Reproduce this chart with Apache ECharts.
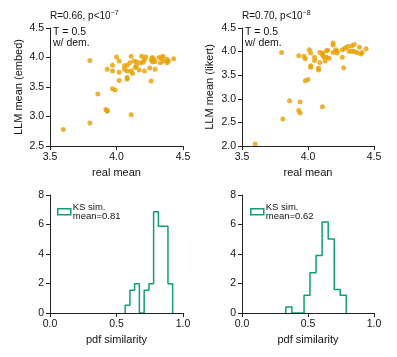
<!DOCTYPE html>
<html>
<head>
<meta charset="utf-8">
<script src="https://cdn.jsdelivr.net/npm/echarts@6/dist/echarts.min.js"></script>
<style>
  html, body { margin: 0; padding: 0; background: #fff; }
  #chart { width: 397px; height: 357px; }
</style>
</head>
<body>
<div id="chart"></div>
<script>
// top-left: real mean vs LLM mean (embed)
const realEmbed = [3.60,3.80,3.80,3.86,3.92,3.93,3.93,3.93,3.97,3.97,3.97,3.99,4.00,4.02,4.02,4.02,4.06,4.06,4.08,4.08,4.08,4.08,4.10,4.11,4.11,4.11,4.12,4.13,4.14,4.15,4.15,4.17,4.18,4.19,4.20,4.21,4.21,4.22,4.25,4.26,4.26,4.27,4.27,4.28,4.29,4.29,4.32,4.33,4.34,4.35,4.35,4.38,4.38,4.39,4.43]
const llmEmbed = [2.78,3.95,2.89,3.38,3.12,3.09,3.10,3.80,3.87,3.77,3.47,3.45,4.01,3.94,3.75,3.61,3.86,3.80,3.63,3.66,3.77,3.87,3.91,3.03,4.02,3.77,3.73,3.94,3.83,3.86,3.93,3.79,3.91,4.02,3.92,3.96,3.77,4.01,3.82,3.96,3.60,4.00,3.93,3.97,3.80,3.93,4.00,3.91,4.00,4.02,3.94,3.97,3.91,3.94,3.98]

// top-right: real mean vs LLM mean (likert)
const realLikert = [3.60,3.80,3.81,3.86,3.93,3.93,3.94,3.94,3.97,3.98,3.98,4.00,4.01,4.02,4.02,4.02,4.05,4.05,4.08,4.08,4.09,4.09,4.11,4.11,4.11,4.12,4.13,4.14,4.14,4.15,4.16,4.19,4.19,4.19,4.21,4.22,4.22,4.26,4.26,4.27,4.28,4.30,4.31,4.33,4.33,4.35,4.35,4.37,4.39,4.40,4.41,4.44]
const llmLikert = [2.04,3.98,2.57,2.96,3.91,2.75,2.70,2.93,3.90,3.85,3.38,3.41,4.04,3.70,3.67,3.97,3.88,3.81,3.65,3.61,3.77,3.98,3.93,2.83,3.97,3.88,3.80,4.02,3.88,4.03,3.86,4.18,4.14,3.98,4.04,3.97,4.01,3.88,4.04,3.66,4.07,4.11,4.01,4.12,4.01,4.15,4.00,3.98,4.09,3.95,3.98,4.06]

// bottom: KS similarity histograms (density)
const ksEdgesEmbed = [0.565,0.601,0.636,0.672,0.708,0.744,0.779,0.815,0.851,0.887,0.922]
const ksDensityEmbed = [0.52,1.54,1.99,0,1.54,1.99,6.87,5.88,5.88,1.99]
const ksEdgesLikert = [0.332,0.378,0.424,0.470,0.515,0.561,0.607,0.653,0.699,0.744,0.790]
const ksDensityLikert = [0.41,0,0,1.20,2.73,3.89,6.17,5.02,1.60,1.20]

const scatterTitles = ['R=0.66, p<10', 'R=0.70, p<10']
const scatterExps = ['\u22127', '\u22128']
const legendNames = ['KS sim.\nmean=0.81', 'KS sim.\nmean=0.62']

const ORANGE = '#E69F00'
const TEAL = '#0f9e78'
const AXIS = '#222'
const FONT = 'Liberation Sans, Arial, sans-serif'

const pairs = (xs, ys) => xs.map((x, i) => [x, ys[i]])

// step outline of a histogram, like histtype='step'
const stepLine = (edges, heights) => {
  const pts = [[edges[0], 0]]
  heights.forEach((h, i) => {
    pts.push([edges[i], h])
    pts.push([edges[i + 1], h])
  })
  pts.push([edges[edges.length - 1], 0])
  return pts
}

const grids = [
  { left: 50, top: 28, width: 133, height: 118 },
  { left: 242, top: 28, width: 132, height: 118 },
  { left: 50, top: 195, width: 133, height: 118 },
  { left: 242, top: 195, width: 132, height: 118 }
]

const tickLabel = (formatter) => ({ color: '#111', fontSize: 10.5, fontFamily: FONT, margin: 6, formatter: formatter })

const baseAxis = (extra) => Object.assign({
  type: 'value',
  z: 5,
  splitLine: { show: false },
  axisLine: { show: true, onZero: false, lineStyle: { color: AXIS, width: 1 } },
  axisTick: { show: true, inside: false, length: 4, lineStyle: { color: AXIS } },
  nameLocation: 'middle',
  nameTextStyle: { color: '#111', fontSize: 11, fontFamily: FONT }
}, extra)

const fmt1 = (v) => v.toFixed(1)
const fmt0 = (v) => String(v)

const xAxis = [
  baseAxis({ gridIndex: 0, min: 3.5, max: 4.5, interval: 0.5, name: 'real mean', nameGap: 21, axisLabel: tickLabel(fmt1) }),
  baseAxis({ gridIndex: 1, min: 3.5, max: 4.5, interval: 0.5, name: 'real mean', nameGap: 21, axisLabel: tickLabel(fmt1) }),
  baseAxis({ gridIndex: 2, min: 0, max: 1, interval: 0.5, name: 'pdf similarity', nameGap: 21, axisLabel: tickLabel(fmt1) }),
  baseAxis({ gridIndex: 3, min: 0, max: 1, interval: 0.5, name: 'pdf similarity', nameGap: 21, axisLabel: tickLabel(fmt1) })
]

const yAxis = [
  baseAxis({ gridIndex: 0, min: 2.5, max: 4.5, interval: 0.5, name: 'LLM mean (embed)', nameGap: 26, axisLabel: tickLabel(fmt1) }),
  baseAxis({ gridIndex: 1, min: 2.0, max: 4.5, interval: 0.5, name: 'LLM mean (likert)', nameGap: 27, axisLabel: tickLabel(fmt1) }),
  baseAxis({ gridIndex: 2, min: 0, max: 8, interval: 2, axisLabel: tickLabel(fmt0) }),
  baseAxis({ gridIndex: 3, min: 0, max: 8, interval: 2, axisLabel: tickLabel(fmt0) })
]

const scatterSeries = (idx, xs, ys) => ({
  type: 'scatter',
  xAxisIndex: idx,
  yAxisIndex: idx,
  symbolSize: 5,
  itemStyle: { color: ORANGE },
  data: pairs(xs, ys),
  silent: true
})

const histSeries = (idx, name, edges, heights) => ({
  type: 'line',
  name: name,
  xAxisIndex: idx,
  yAxisIndex: idx,
  z: 1,
  showSymbol: false,
  symbol: 'none',
  lineStyle: { color: TEAL, width: 1.5 },
  itemStyle: { color: TEAL },
  data: stepLine(edges, heights),
  silent: true,
  animation: false
})

const legendFor = (name, left) => ({
  left: left,
  top: 197,
  orient: 'vertical',
  itemWidth: 13,
  itemHeight: 6,
  itemGap: 4,
  selectedMode: false,
  data: [{ name: name, icon: 'rect', itemStyle: { color: '#fff', borderColor: TEAL, borderWidth: 1.5 } }],
  textStyle: { color: '#111', fontSize: 9.5, fontFamily: FONT, lineHeight: 9.5, padding: [0, 0, 0, -3] }
})

const titleText = (x, main, exp) => ({
  type: 'text',
  left: x,
  top: 10,
  style: {
    text: '{a|' + main + '}{s|' + exp + '}',
    rich: {
      a: { fontSize: 10, fontFamily: FONT, fill: '#111', lineHeight: 13 },
      s: { fontSize: 7, fontFamily: FONT, fill: '#111', verticalAlign: 'top' }
    }
  }
})

const noteText = (x) => ({
  type: 'text',
  left: x,
  top: 26,
  style: {
    text: 'T = 0.5\nw/ dem.',
    fontSize: 10.5,
    lineHeight: 11.5,
    fontFamily: FONT,
    fill: '#111'
  }
})

const chart = echarts.init(document.getElementById('chart'), null, { renderer: 'canvas' })

chart.setOption({
  animation: false,
  backgroundColor: '#fff',
  grid: grids,
  xAxis: xAxis,
  yAxis: yAxis,
  legend: [legendFor(legendNames[0], 52), legendFor(legendNames[1], 245)],
  graphic: [
    titleText(50, scatterTitles[0], scatterExps[0]),
    titleText(242, scatterTitles[1], scatterExps[1]),
    noteText(53),
    noteText(245)
  ],
  series: [
    scatterSeries(0, realEmbed, llmEmbed),
    scatterSeries(1, realLikert, llmLikert),
    histSeries(2, legendNames[0], ksEdgesEmbed, ksDensityEmbed),
    histSeries(3, legendNames[1], ksEdgesLikert, ksDensityLikert)
  ]
})
</script>
</body>
</html>
